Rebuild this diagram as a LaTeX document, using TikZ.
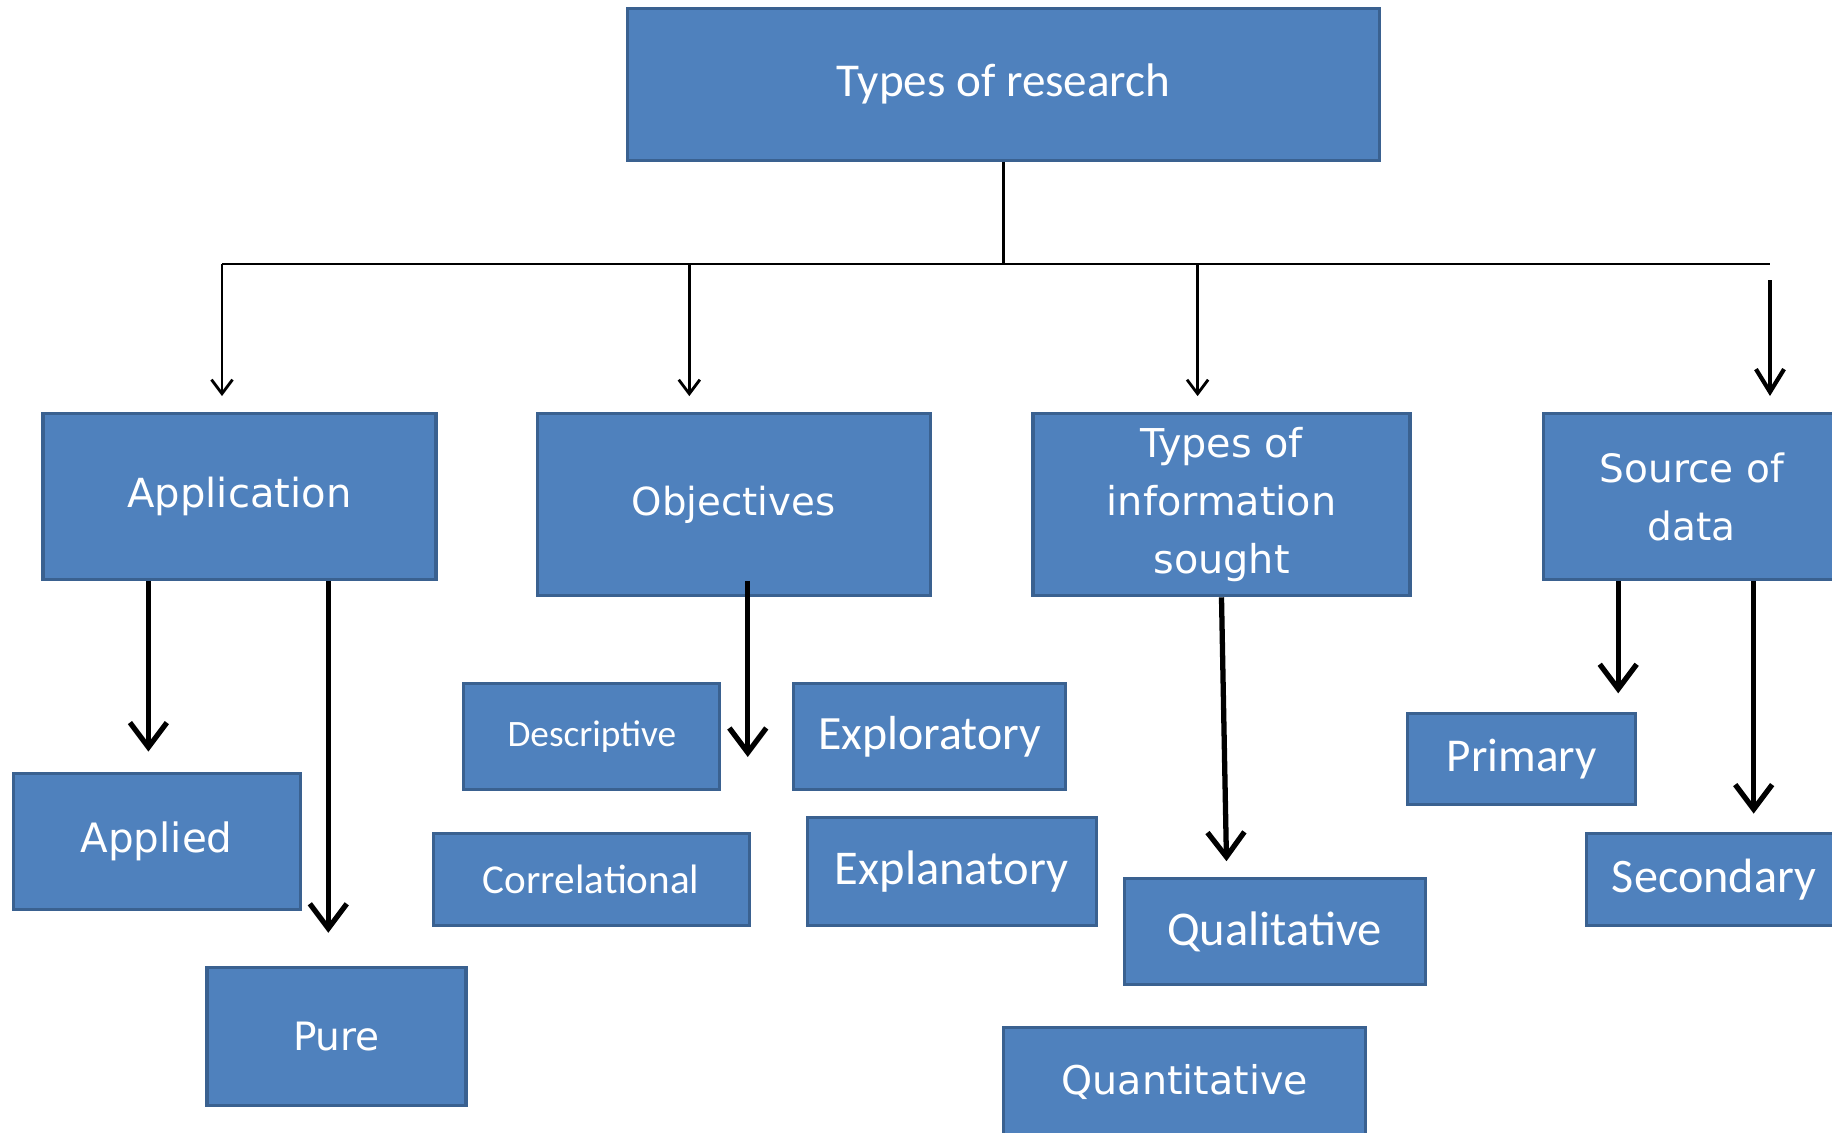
\documentclass[tikz,border=0pt]{standalone}
\usepackage{fontspec}
\usepackage{tikz}
\usetikzlibrary{arrows.meta}
\newfontfamily\verdfont{DejaVu Sans}
\newfontfamily\califont{Carlito}
\definecolor{boxblue}{HTML}{4F81BD}
\definecolor{boxedge}{HTML}{3A6190}

\tikzset{
  rbox/.style 2 args={draw=boxedge, fill=boxblue, text=white, line width=0.9pt,
    inner sep=0pt, align=center, minimum width=#1*0.01cm, minimum height=#2*0.01cm},
  vfont/.style={font=\verdfont\fontsize{#1}{16.5}\selectfont},
  cfont/.style={font=\califont\fontsize{#1}{16.5}\selectfont},
  trunk/.style={line width=0.8pt},
  thinarrow/.style={line width=0.8pt, -{Straight Barb[length=4pt,width=6pt]}},
  midarrow/.style={line width=1.2pt, -{Straight Barb[length=6.5pt,width=8pt]}},
  bigarrow/.style={line width=1.5pt, -{Straight Barb[length=7pt,width=10.5pt]}}
}

\begin{document}
\begin{tikzpicture}[x=0.01cm, y=-0.01cm]
  \useasboundingbox (0,0) rectangle (1832,1133);
  \clip (0,0) rectangle (1832,1133);
  \fill[white] (0,0) rectangle (1832,1133);

  \node[rbox={752}{152}, cfont=13.4] (top) at (1003.6,84.1) {Types of research};
  \node[rbox={393}{166}, vfont=11.4] (app) at (239.5,496.6) {Application};
  \node[rbox={393}{182}, vfont=11.0] (obj) at (733.7,504.7) {Objectives};
  \node[rbox={377}{182}, vfont=11.3] (info) at (1221.5,504.7) {Types of\\information\\sought};
  \node[rbox={297}{166}, vfont=11.1] (src) at (1691.8,496.6) {Source of\\data};
  \node[rbox={287}{136}, vfont=11.5] (applied) at (156.6,841.2) {Applied};
  \node[rbox={259}{138}, vfont=11.1] (pure) at (336.5,1036.4) {Pure};
  \node[rbox={256}{106}, cfont=10.6] (desc) at (591.8,736.7) {Descriptive};
  \node[rbox={272}{106}, cfont=13.6] (expl) at (929.5,736.7) {Exploratory};
  \node[rbox={316}{92}, cfont=11.7] (corr) at (591.2,879.2) {Correlational};
  \node[rbox={289}{108}, cfont=13.8] (expn) at (951.6,871.6) {Explanatory};
  \node[rbox={301}{106}, cfont=13.8] (qual) at (1274.7,931.8) {Qualitative};
  \node[rbox={362}{108}, vfont=11.25] (quan) at (1184.7,1081.9) {Quantitative};
  \node[rbox={228}{91}, cfont=13.4] (prim) at (1521.8,759.4) {Primary};
  \node[rbox={255}{92}, cfont=13.7] (sec) at (1714,879.2) {Secondary};

  \coordinate (hub) at (top.south |- 0,264);
  \coordinate (bl) at (222,264);
  \coordinate (br) at (1770,264);
  \coordinate (objtip) at (747.8,757);
  \draw[trunk] (top.south) -- (hub);
  \draw[trunk] (bl) -- (br);
  \foreach \x/\n in {222/app, 689.3/obj, 1197.6/info}
    \draw[thinarrow, shorten >=0.16cm] (\x,0 |- hub) -- (\x,0 |- \n.north);
  \draw[midarrow, shorten <=0.16cm, shorten >=0.16cm] (br) -- (br |- src.north);

  \draw[bigarrow, shorten >=0.2cm] (148.4,0 |- app.south) -- (148.4,0 |- applied.north);
  \draw[bigarrow, shorten >=0.33cm] (328.3,0 |- app.south) -- (328.3,0 |- pure.north);
  \draw[bigarrow, shorten <=-0.164cm] (obj.south -| objtip) -- (objtip);
  \draw[bigarrow, shorten >=0.16cm] (info.south) -- (1226.8,0 |- qual.north);
  \draw[bigarrow, shorten >=0.19cm] (1618.2,0 |- src.south) -- (1618.2,0 |- prim.north);
  \draw[bigarrow, shorten >=0.18cm] (1753.7,0 |- src.south) -- (1753.7,0 |- sec.north);
\end{tikzpicture}
\end{document}
